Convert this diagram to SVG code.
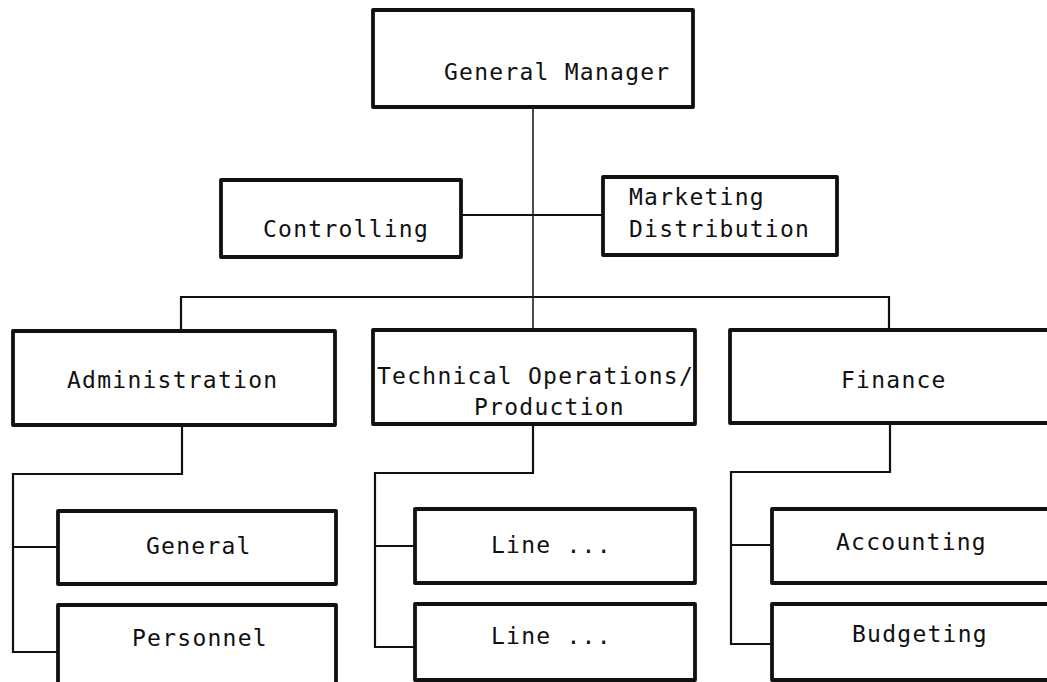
<svg xmlns="http://www.w3.org/2000/svg" width="1047" height="682" viewBox="0 0 1047 682">
  <style>
    .box { fill: #ffffff; stroke: #111111; stroke-width: 3.8; stroke-linejoin: round; }
    .lbl { font-family: "DejaVu Sans Mono", "Liberation Mono", monospace; font-size: 23px; letter-spacing: 1.25px; fill: #111111; }
    .wire { fill: none; stroke: #111111; stroke-width: 2.2; stroke-linejoin: miter; }
    .thin { fill: none; stroke: #111111; stroke-width: 1.5; }
  </style>
  <rect x="0" y="0" width="1047" height="682" fill="#ffffff"/>

  <!-- connectors -->
  <g id="connectors">
    <line class="thin" x1="533" y1="107" x2="533" y2="331"/>
    <line class="wire" x1="461" y1="215" x2="603" y2="215" stroke-width="2.8"/>
    <path class="wire" d="M181 331 V297 H889 V330"/>
    <!-- administration subtree -->
    <path class="wire" d="M182 425 V474 H13 V652 H58"/>
    <line class="wire" x1="13" y1="547" x2="58" y2="547" stroke-width="3"/>
    <!-- technical subtree -->
    <path class="wire" d="M533 424 V473 H375 V647 H415"/>
    <line class="wire" x1="375" y1="546" x2="415" y2="546" stroke-width="3"/>
    <!-- finance subtree -->
    <path class="wire" d="M890 423 V472 H731 V644 H772"/>
    <line class="wire" x1="731" y1="545" x2="772" y2="545" stroke-width="3"/>
  </g>

  <g id="general-manager">
    <rect class="box" x="373" y="10" width="320" height="97"/>
    <text class="lbl" x="444" y="80">General Manager</text>
  </g>
  <g id="controlling">
    <rect class="box" x="221" y="180" width="240" height="77"/>
    <text class="lbl" x="263" y="237">Controlling</text>
  </g>
  <g id="marketing">
    <rect class="box" x="603" y="177" width="234" height="78"/>
    <text class="lbl" x="629" y="205">Marketing</text>
    <text class="lbl" x="629" y="237">Distribution</text>
  </g>

  <g id="administration">
    <rect class="box" x="13" y="331" width="322" height="94"/>
    <text class="lbl" x="67" y="388">Administration</text>
  </g>
  <g id="technical">
    <rect class="box" x="373" y="330" width="322" height="94"/>
    <text class="lbl" x="377" y="384">Technical Operations/</text>
    <text class="lbl" x="474" y="415">Production</text>
  </g>
  <g id="finance">
    <rect class="box" x="730" y="330" width="340" height="93"/>
    <text class="lbl" x="841" y="388">Finance</text>
  </g>

  <g id="general">
    <rect class="box" x="58" y="511" width="278" height="73"/>
    <text class="lbl" x="146" y="554">General</text>
  </g>
  <g id="personnel">
    <rect class="box" x="58" y="605" width="278" height="80"/>
    <text class="lbl" x="132" y="646">Personnel</text>
  </g>
  <g id="line-1">
    <rect class="box" x="415" y="509" width="280" height="74"/>
    <text class="lbl" x="491" y="553">Line ...</text>
  </g>
  <g id="line-2">
    <rect class="box" x="415" y="604" width="280" height="76"/>
    <text class="lbl" x="491" y="644">Line ...</text>
  </g>
  <g id="accounting">
    <rect class="box" x="772" y="509" width="300" height="74"/>
    <text class="lbl" x="836" y="550">Accounting</text>
  </g>
  <g id="budgeting">
    <rect class="box" x="772" y="604" width="300" height="76"/>
    <text class="lbl" x="852" y="642">Budgeting</text>
  </g>
</svg>
